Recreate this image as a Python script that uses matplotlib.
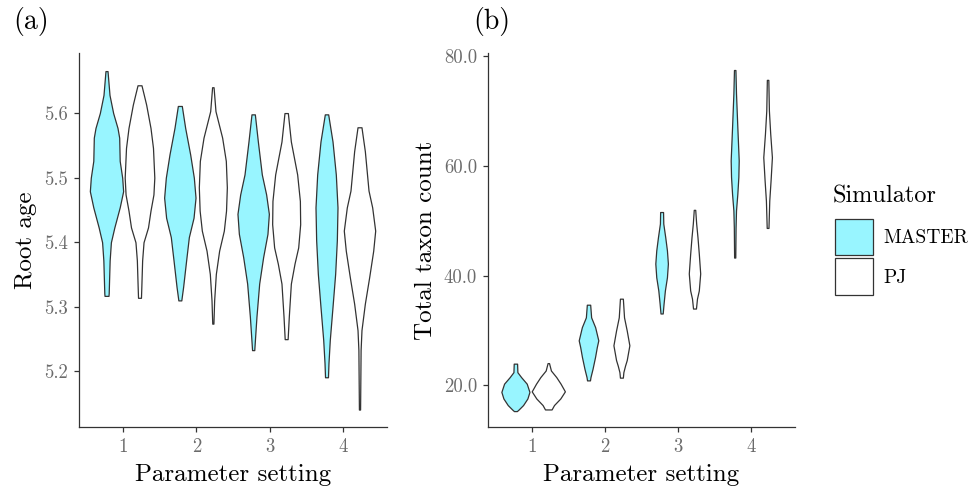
import matplotlib
matplotlib.use("Agg")
import matplotlib.pyplot as plt
from matplotlib.patches import Patch

plt.rcParams['font.family'] = ['cmr10', 'DejaVu Serif']
plt.rcParams['axes.unicode_minus'] = False

# parameter settings and simulators
settings = [1, 2, 3, 4]
simulators = ["MASTER", "PJ"]
colours = {"MASTER": "#98F5FF", "PJ": "#FFFFFF"}

# violin profiles: (value, half width of the density)
root_master_1 = [(5.317, 0.027), (5.321, 0.030), (5.372, 0.043), (5.400, 0.060), (5.423, 0.107),
                 (5.454, 0.180), (5.479, 0.227), (5.500, 0.214), (5.526, 0.180), (5.562, 0.173),
                 (5.577, 0.150), (5.600, 0.091), (5.628, 0.041), (5.665, 0.014)]
root_pj_1 = [(5.314, 0.020), (5.331, 0.025), (5.372, 0.036), (5.400, 0.055), (5.423, 0.116),
             (5.449, 0.150), (5.474, 0.190), (5.500, 0.202), (5.546, 0.184), (5.577, 0.150),
             (5.613, 0.091), (5.630, 0.055), (5.643, 0.027)]
root_master_2 = [(5.310, 0.020), (5.331, 0.045), (5.372, 0.086), (5.408, 0.123), (5.438, 0.187),
                 (5.469, 0.214), (5.500, 0.191), (5.536, 0.141), (5.577, 0.073), (5.611, 0.027)]
root_pj_2 = [(5.274, 0.008), (5.310, 0.018), (5.351, 0.041), (5.387, 0.086), (5.418, 0.150),
             (5.449, 0.180), (5.485, 0.191), (5.526, 0.177), (5.562, 0.127), (5.603, 0.036),
             (5.640, 0.010)]
root_master_3 = [(5.233, 0.015), (5.254, 0.027), (5.285, 0.045), (5.336, 0.082), (5.377, 0.136),
                 (5.413, 0.195), (5.444, 0.214), (5.474, 0.177), (5.505, 0.118), (5.556, 0.064),
                 (5.598, 0.023)]
root_pj_3 = [(5.250, 0.020), (5.285, 0.036), (5.336, 0.064), (5.367, 0.114), (5.392, 0.164),
             (5.428, 0.191), (5.464, 0.187), (5.505, 0.150), (5.556, 0.064), (5.600, 0.023)]
root_master_4 = [(5.191, 0.020), (5.213, 0.027), (5.249, 0.045), (5.300, 0.082), (5.351, 0.118),
                 (5.403, 0.141), (5.454, 0.150), (5.505, 0.127), (5.556, 0.082), (5.598, 0.023)]
root_pj_4 = [(5.141, 0.008), (5.233, 0.015), (5.264, 0.027), (5.305, 0.073), (5.346, 0.132),
             (5.387, 0.187), (5.418, 0.214), (5.454, 0.173), (5.480, 0.123), (5.541, 0.073),
             (5.578, 0.027)]

taxa_master_1 = [(15.3, 0.020), (15.6, 0.045), (16.4, 0.105), (17.6, 0.164), (18.8, 0.192),
                 (20.3, 0.155), (21.5, 0.078), (22.4, 0.027), (23.95, 0.023)]
taxa_pj_1 = [(15.6, 0.045), (16.4, 0.078), (17.6, 0.164), (18.9, 0.227), (20.3, 0.168),
             (21.5, 0.109), (22.7, 0.036), (24.05, 0.010)]
taxa_master_2 = [(20.9, 0.020), (21.5, 0.027), (23.0, 0.055), (25.2, 0.090), (27.0, 0.114),
                 (28.2, 0.134), (30.6, 0.091), (32.4, 0.036), (34.7, 0.023)]
taxa_pj_2 = [(21.4, 0.020), (22.4, 0.027), (23.6, 0.050), (24.6, 0.073), (27.3, 0.109),
             (30.0, 0.073), (32.4, 0.036), (35.8, 0.020)]
taxa_master_3 = [(33.1, 0.015), (34.9, 0.027), (37.3, 0.045), (39.7, 0.073), (42.2, 0.086),
                 (44.6, 0.073), (47.0, 0.050), (49.5, 0.023), (51.6, 0.020)]
taxa_pj_3 = [(34.0, 0.020), (35.8, 0.034), (37.3, 0.059), (40.4, 0.078), (44.0, 0.059),
             (47.0, 0.041), (49.5, 0.023), (52.0, 0.010)]
taxa_master_4 = [(43.3, 0.008), (48.8, 0.012), (51.9, 0.018), (54.9, 0.036), (58.0, 0.050),
                 (61.0, 0.055), (67.1, 0.036), (73.2, 0.018), (77.5, 0.010)]
taxa_pj_4 = [(48.7, 0.012), (53.7, 0.023), (57.4, 0.041), (61.6, 0.059), (65.9, 0.036),
             (70.1, 0.018), (75.7, 0.010)]

root_violins = {"MASTER": [root_master_1, root_master_2, root_master_3, root_master_4],
                "PJ": [root_pj_1, root_pj_2, root_pj_3, root_pj_4]}
taxa_violins = {"MASTER": [taxa_master_1, taxa_master_2, taxa_master_3, taxa_master_4],
                "PJ": [taxa_pj_1, taxa_pj_2, taxa_pj_3, taxa_pj_4]}

root_ticks = [5.2, 5.3, 5.4, 5.5, 5.6]
taxa_ticks = [20, 40, 60, 80]

EDGE = "#333333"
TICKCOL = "#6b6b6b"


def draw_violins(ax, violins):
    offsets = {"MASTER": -0.225, "PJ": 0.225}
    for sim in simulators:
        for s, prof in zip(settings, violins[sim]):
            ys = [p[0] for p in prof]
            ws = [p[1] for p in prof]
            c = s + offsets[sim]
            ax.fill_betweenx(ys, [c - w for w in ws], [c + w for w in ws],
                             facecolor=colours[sim], edgecolor=EDGE, linewidth=0.9, zorder=2)


def style(ax):
    for sp in ["top", "right"]:
        ax.spines[sp].set_visible(False)
    for sp in ["left", "bottom"]:
        ax.spines[sp].set_color(EDGE)
        ax.spines[sp].set_linewidth(0.9)
    ax.tick_params(colors=EDGE, labelcolor=TICKCOL, labelsize=13.5, length=3.5, width=0.9, pad=4.5)
    ax.set_xlim(0.4, 4.6)
    ax.set_xticks(settings)
    ax.set_xticklabels([str(s) for s in settings])
    ax.set_xlabel("Parameter setting", fontsize=18, labelpad=6)


fig = plt.figure(figsize=(9.79, 4.90), dpi=100)
ax1 = fig.add_axes([79 / 979, 63 / 490, 308 / 979, 374 / 490])
ax2 = fig.add_axes([488 / 979, 63 / 490, 307 / 979, 374 / 490])

draw_violins(ax1, root_violins)
style(ax1)
ax1.set_ylim(5.114, 5.693)
ax1.set_yticks(root_ticks)
ax1.set_yticklabels([f"{t:.1f}" for t in root_ticks])
ax1.set_ylabel("Root age", fontsize=18, labelpad=5)

draw_violins(ax2, taxa_violins)
style(ax2)
ax2.set_ylim(12.4, 80.6)
ax2.set_yticks(taxa_ticks)
ax2.set_yticklabels([f"{t:.1f}" for t in taxa_ticks])
ax2.set_ylabel("Total taxon count", fontsize=18, labelpad=5)

fig.text(13 / 979, 1 - 22 / 490, "(a)", fontsize=20, va="center", ha="left")
fig.text(473 / 979, 1 - 22 / 490, "(b)", fontsize=20, va="center", ha="left")

# legend: title drawn as text, keys below
fig.text(833 / 979, 1 - 196 / 490, "Simulator", fontsize=17.5, va="center", ha="left")
handles = [Patch(facecolor=colours[s], edgecolor=EDGE, linewidth=0.9) for s in simulators]
fig.legend(handles, simulators, loc="upper left",
           bbox_to_anchor=(835 / 979, 1 - 219 / 490), frameon=False, fontsize=14,
           handlelength=1.95, handleheight=2.5,
           labelspacing=0.16, handletextpad=0.55, borderpad=0, borderaxespad=0)

fig.savefig("out.png", dpi=100)
